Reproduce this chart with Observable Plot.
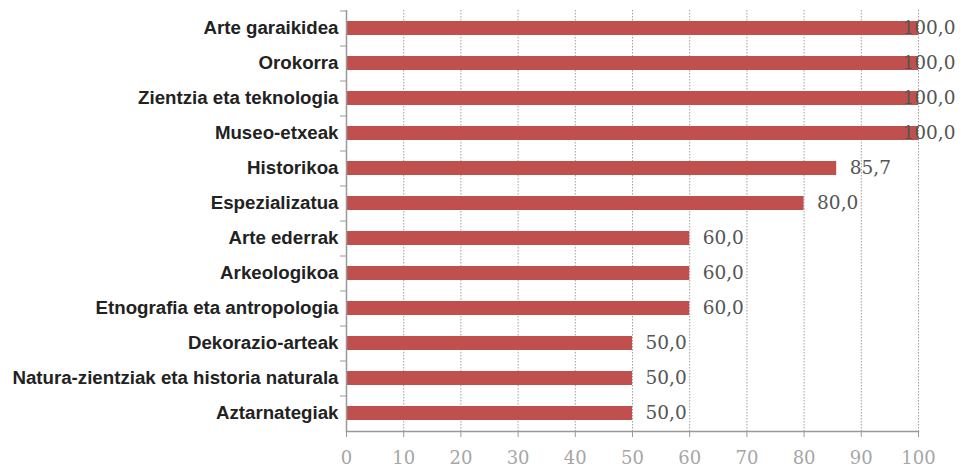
<!DOCTYPE html>
<html>
<head>
<meta charset="utf-8">
<script src="https://cdn.jsdelivr.net/npm/d3@7"></script>
<script src="https://cdn.jsdelivr.net/npm/@observablehq/plot@0.6"></script>
<style>
  html, body { margin: 0; padding: 0; background: #fff; }
  #chart svg { display: block; }
</style>
</head>
<body>
<div id="chart"></div>
<script>
const categories = [
  "Arte garaikidea",
  "Orokorra",
  "Zientzia eta teknologia",
  "Museo-etxeak",
  "Historikoa",
  "Espezializatua",
  "Arte ederrak",
  "Arkeologikoa",
  "Etnografia eta antropologia",
  "Dekorazio-arteak",
  "Natura-zientziak eta historia naturala",
  "Aztarnategiak"
];
const values = [100.0, 100.0, 100.0, 100.0, 85.7, 80.0, 60.0, 60.0, 60.0, 50.0, 50.0, 50.0];
const xTicks = [0, 10, 20, 30, 40, 50, 60, 70, 80, 90, 100];

const data = categories.map((c, i) => ({category: c, value: values[i]}));
const fmt = v => v.toFixed(1).replace(".", ",");
const serif = "'DejaVu Serif', serif";

const chart = Plot.plot({
  width: 960,
  height: 468,
  marginLeft: 346,
  marginRight: 42,
  marginTop: 10,
  marginBottom: 37,
  x: {domain: [0, 100]},
  y: {domain: categories, paddingInner: 0.6, paddingOuter: 0.3},
  style: {background: "#fff"},
  marks: [
    Plot.gridX(xTicks.filter(d => d > 0), {stroke: "#888", strokeOpacity: 0.8, strokeDasharray: "1.5,1.5", strokeWidth: 1}),
    Plot.barX(data, {x: "value", y: "category", fill: "#C0504D"}),
    Plot.text(data.filter(d => d.value < 100), {
      x: "value", y: "category", text: d => fmt(d.value),
      textAnchor: "start", dx: 13, fill: "#555", fontSize: 18.5, fontFamily: serif
    }),
    Plot.text(data.filter(d => d.value >= 100), {
      x: "value", y: "category", text: d => fmt(d.value),
      textAnchor: "start", dx: -16, fill: "#555", fontSize: 18.5, fontFamily: serif
    }),
    Plot.ruleX([0], {stroke: "#999", strokeWidth: 1.5}),
    Plot.frame({anchor: "bottom", stroke: "#999", strokeWidth: 1.5}),
    Plot.axisX({
      ticks: xTicks, tickSize: 6, tickPadding: 14, stroke: "#999",
      fill: "#a6a6a6", fontSize: 18, fontFamily: serif, tickFormat: d => String(d), label: null
    }),
    Plot.axisY({
      tickSize: 6, dy: -17.5, text: null, stroke: "#999", label: null
    }),
    Plot.axisY({
      tickSize: 0, tickPadding: 8, fill: "#222", fontSize: 18.7, fontWeight: "bold",
      fontFamily: "'Liberation Sans', Arial, sans-serif", label: null
    })
  ]
});
document.getElementById("chart").appendChild(chart);
</script>
</body>
</html>
